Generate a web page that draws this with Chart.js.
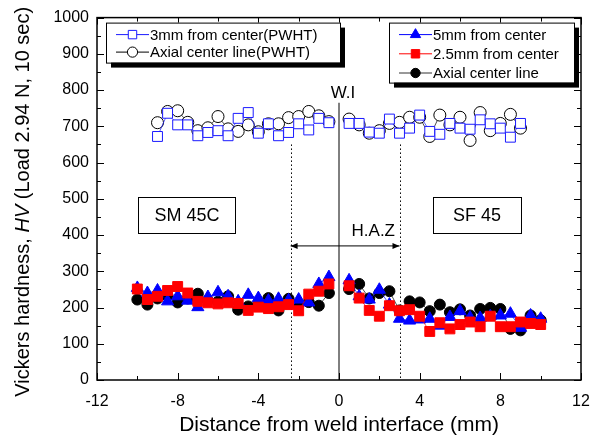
<!DOCTYPE html>
<html>
<head>
<meta charset="utf-8">
<script src="https://cdn.jsdelivr.net/npm/chart.js@4/dist/chart.umd.min.js"></script>
<style>
  body { margin: 0; background: #fff; }
  #wrap { width: 602px; height: 440px; }
</style>
</head>
<body>
<div id="wrap"><canvas id="hvChart" width="602" height="440"></canvas></div>
<script>
// positions (mm) of the PWHT measurements
const xPwht = [-9, -8.5, -8, -7.5, -7, -6.5, -6, -5.5, -5, -4.5, -4, -3.5, -3, -2.5, -2, -1.5, -1, -0.5,
  0.5, 1, 1.5, 2, 2.5, 3, 3.5, 4, 4.5, 5, 5.5, 6, 6.5, 7, 7.5, 8, 8.5, 9];
const pwht3mm = [672, 736, 704, 704, 674, 683, 688, 674, 722, 738, 681, 707, 674, 683, 707, 690, 722, 710,
  708, 708, 684, 681, 720, 681, 695, 731, 686, 678, 708, 695, 692, 718, 707, 695, 670, 708];
const pwhtAxial = [710, 741, 743, 711, 688, 696, 727, 693, 686, 704, 685, 707, 707, 724, 727, 741, 729, 713,
  720, 704, 681, 688, 708, 711, 725, 725, 672, 731, 704, 725, 661, 738, 688, 708, 733, 695];

// positions (mm) of the as-welded measurements
const xWeld = [-10, -9.5, -9, -8.5, -8, -7.5, -7, -6.5, -6, -5.5, -5, -4.5, -4, -3.5, -3, -2.5, -2, -1.5, -1, -0.5,
  0.5, 1, 1.5, 2, 2.5, 3, 3.5, 4, 4.5, 5, 5.5, 6, 6.5, 7, 7.5, 8, 8.5, 9, 9.5, 10];
const weld5mm = [254, 240, 247, 217, 231, 219, 201, 229, 242, 231, 217, 235, 226, 219, 224, 220, 222, 214, 265, 284,
  275, 231, 222, 249, 208, 169, 164, 167, 169, 150, 174, 190, 172, 171, 176, 178, 183, 144, 178, 169];
const weld25mm = [251, 222, 231, 247, 258, 240, 217, 213, 210, 213, 211, 192, 201, 197, 202, 208, 191, 237, 245, 265,
  260, 226, 192, 176, 205, 191, 194, 176, 134, 158, 141, 153, 160, 147, 176, 147, 147, 160, 156, 153];
const weldAxial = [222, 208, 225, 232, 214, 225, 238, 220, 216, 231, 194, 203, 210, 226, 192, 224, 210, 215, 205, 240,
  251, 265, 225, 240, 245, 192, 217, 214, 190, 208, 187, 195, 178, 196, 199, 196, 141, 137, 178, 165];

const xTicks = [-12, -8, -4, 0, 4, 8, 12];
const yTicks = [0, 100, 200, 300, 400, 500, 600, 700, 800, 900, 1000];

const FONT = '"Liberation Sans", Arial, sans-serif';

const pts = (xs, ys) => xs.map((x, i) => ({ x: x, y: ys[i] }));
// no line across the weld interface
const noCross = { borderColor: c => (c.p0.parsed.x < 0 && c.p1.parsed.x > 0) ? 'rgba(0,0,0,0)' : undefined };

const series = [
  { label: '3mm from center(PWHT)', data: pts(xPwht, pwht3mm), pointStyle: 'rect', pointRadius: 7,
    borderColor: '#1a1aff', backgroundColor: '#fff', order: 1 },
  { label: 'Axial center line(PWHT)', data: pts(xPwht, pwhtAxial), pointStyle: 'circle', pointRadius: 6,
    borderColor: '#000', backgroundColor: '#fff', order: 2 },
  { label: '5mm from center', data: pts(xWeld, weld5mm), pointStyle: 'triangle', pointRadius: 7,
    borderColor: '#0000ff', backgroundColor: '#0000ff', order: 4 },
  { label: '2.5mm from center', data: pts(xWeld, weld25mm), pointStyle: 'rect', pointRadius: 7,
    borderColor: '#ff0000', backgroundColor: '#ff0000', order: 3 },
  { label: 'Axial center line', data: pts(xWeld, weldAxial), pointStyle: 'circle', pointRadius: 5.5,
    borderColor: '#000', backgroundColor: '#000', order: 5 }
];

function drawMarker(ctx, style, cx, cy, r, fill, stroke) {
  ctx.beginPath();
  if (style === 'rect') {
    const s = r * Math.SQRT1_2;
    ctx.rect(cx - s, cy - s, 2 * s, 2 * s);
  } else if (style === 'triangle') {
    ctx.moveTo(cx, cy - r);
    ctx.lineTo(cx + r * 0.866, cy + r * 0.5);
    ctx.lineTo(cx - r * 0.866, cy + r * 0.5);
    ctx.closePath();
  } else {
    ctx.arc(cx, cy, r, 0, Math.PI * 2);
  }
  ctx.fillStyle = fill;
  ctx.fill();
  ctx.strokeStyle = stroke;
  ctx.lineWidth = 1;
  ctx.stroke();
}

function legendBox(ctx, left, top, w, h, items) {
  ctx.fillStyle = '#000';
  ctx.fillRect(left + 5, top + 5, w, h);
  ctx.fillStyle = '#fff';
  ctx.fillRect(left, top, w, h);
  ctx.strokeStyle = '#000';
  ctx.lineWidth = 1;
  ctx.strokeRect(left + 0.5, top + 0.5, w, h);
  items.forEach((it, i) => {
    const yy = top + 12 + i * it.gap;
    ctx.strokeStyle = it.line;
    ctx.lineWidth = 1;
    ctx.beginPath();
    ctx.moveTo(left + 10, yy);
    ctx.lineTo(left + 43, yy);
    ctx.stroke();
    drawMarker(ctx, it.ds.pointStyle, left + 26.5, yy, it.ds.pointRadius * 0.85, it.ds.backgroundColor, it.ds.borderColor);
    ctx.fillStyle = '#000';
    ctx.font = '15px ' + FONT;
    ctx.textAlign = 'left';
    ctx.textBaseline = 'middle';
    ctx.fillText(it.ds.label, left + 44, yy + 1);
  });
}

const decorPlugin = {
  id: 'decor',
  beforeDatasetsDraw(chart) {
    const { ctx, scales: { x, y } } = chart;
    ctx.save();
    ctx.strokeStyle = '#000';
    // weld interface
    ctx.lineWidth = 1;
    ctx.beginPath();
    ctx.moveTo(x.getPixelForValue(0), y.getPixelForValue(765));
    ctx.lineTo(x.getPixelForValue(0), y.getPixelForValue(0));
    ctx.stroke();
    // HAZ bounds
    ctx.setLineDash([1.5, 2.5]);
    [-2.4, 3.0].forEach(v => {
      const px = Math.round(x.getPixelForValue(v)) + 0.5;
      ctx.beginPath();
      ctx.moveTo(px, y.getPixelForValue(650));
      ctx.lineTo(px, y.getPixelForValue(0));
      ctx.stroke();
    });
    ctx.setLineDash([]);
    ctx.restore();
  },
  afterDraw(chart) {
    const { ctx, chartArea: a, scales: { x, y } } = chart;
    ctx.save();
    // frame
    ctx.strokeStyle = '#000';
    ctx.lineWidth = 1.5;
    ctx.strokeRect(a.left, a.top, a.right - a.left, a.bottom - a.top);
    // inward ticks on all four sides
    ctx.lineWidth = 1;
    for (let v = -12; v <= 12; v += 2) {
      const px = Math.round(x.getPixelForValue(v)) + 0.5;
      const len = v % 4 === 0 ? 7 : 4;
      ctx.beginPath();
      ctx.moveTo(px, a.bottom); ctx.lineTo(px, a.bottom - len);
      ctx.moveTo(px, a.top); ctx.lineTo(px, a.top + len);
      ctx.stroke();
    }
    for (let v = 0; v <= 1000; v += 50) {
      const py = Math.round(y.getPixelForValue(v)) + 0.5;
      const len = v % 100 === 0 ? 7 : 4;
      ctx.beginPath();
      ctx.moveTo(a.left, py); ctx.lineTo(a.left + len, py);
      ctx.moveTo(a.right, py); ctx.lineTo(a.right - len, py);
      ctx.stroke();
    }

    ctx.fillStyle = '#000';
    ctx.textBaseline = 'middle';
    ctx.textAlign = 'center';
    // W.I
    ctx.font = '17px ' + FONT;
    ctx.fillText('W.I', x.getPixelForValue(0.2), y.getPixelForValue(790));
    // H.A.Z arrow
    const ay = y.getPixelForValue(370);
    const ax0 = x.getPixelForValue(-2.4), ax1 = x.getPixelForValue(3.0);
    ctx.lineWidth = 1;
    ctx.beginPath();
    ctx.moveTo(ax0, ay); ctx.lineTo(ax1, ay);
    ctx.stroke();
    ctx.beginPath();
    ctx.moveTo(ax0, ay); ctx.lineTo(ax0 + 7, ay - 3); ctx.lineTo(ax0 + 7, ay + 3); ctx.closePath();
    ctx.moveTo(ax1, ay); ctx.lineTo(ax1 - 7, ay - 3); ctx.lineTo(ax1 - 7, ay + 3); ctx.closePath();
    ctx.fill();
    ctx.fillText('H.A.Z', x.getPixelForValue(1.7), y.getPixelForValue(409));
    // material boxes
    ctx.font = '18px ' + FONT;
    [['SM 45C', -9.95, -5.13], ['SF 45', 4.65, 9.03]].forEach(([t, x0, x1]) => {
      const l = x.getPixelForValue(x0), r = x.getPixelForValue(x1);
      const tp = y.getPixelForValue(505), bt = y.getPixelForValue(406);
      ctx.fillStyle = '#fff';
      ctx.fillRect(l, tp, r - l, bt - tp);
      ctx.strokeRect(Math.round(l) + 0.5, Math.round(tp) + 0.5, Math.round(r - l), Math.round(bt - tp));
      ctx.fillStyle = '#000';
      ctx.fillText(t, (l + r) / 2, (tp + bt) / 2 + 1);
    });

    // legends
    const ds = chart.data.datasets;
    legendBox(ctx, a.left + 9, a.top + 5, 234, 40, [
      { ds: ds[0], line: '#1a1aff', gap: 17.5 },
      { ds: ds[1], line: '#000', gap: 17.5 }
    ]);
    legendBox(ctx, a.left + 292, a.top + 5, 185, 60, [
      { ds: ds[2], line: '#0000ff', gap: 19.2 },
      { ds: ds[3], line: '#ff0000', gap: 19.2 },
      { ds: ds[4], line: '#333', gap: 19.2 }
    ]);

    // axis titles
    ctx.fillStyle = '#000';
    ctx.font = '21px ' + FONT;
    ctx.textAlign = 'center';
    ctx.fillText('Distance from weld interface (mm)', (a.left + a.right) / 2, 425);

    const parts = [['Vickers hardness, ', 'normal'], ['HV', 'italic'], [' (Load 2.94 N, 10 sec)', 'normal']];
    ctx.translate(23, (a.top + a.bottom) / 2 + 3);
    ctx.rotate(-Math.PI / 2);
    let total = 0;
    parts.forEach(p => { ctx.font = p[1] + ' 20px ' + FONT; total += ctx.measureText(p[0]).width; });
    let cx = -total / 2;
    ctx.textAlign = 'left';
    parts.forEach(p => {
      ctx.font = p[1] + ' 20px ' + FONT;
      ctx.fillText(p[0], cx, 0);
      cx += ctx.measureText(p[0]).width;
    });
    ctx.restore();
  }
};

new Chart(document.getElementById('hvChart'), {
  type: 'scatter',
  data: {
    datasets: series.map(s => Object.assign({
      showLine: true,
      borderWidth: 0.7,
      pointBorderWidth: 1,
      pointHoverRadius: s.pointRadius,
      segment: noCross
    }, s))
  },
  options: {
    responsive: false,
    animation: false,
    layout: { padding: { top: 17, right: 21, left: 0, bottom: 0 } },
    plugins: {
      legend: { display: false },
      tooltip: { enabled: false }
    },
    scales: {
      x: {
        type: 'linear',
        min: -12, max: 12,
        afterFit: s => { s.height = 60; },
        afterBuildTicks: s => { s.ticks = xTicks.map(v => ({ value: v })); },
        grid: { display: false, drawTicks: false },
        border: { display: false },
        ticks: { color: '#000', padding: 12, font: { family: FONT, size: 16 }, callback: v => String(v) }
      },
      y: {
        type: 'linear',
        min: 0, max: 1000,
        afterFit: s => { s.width = 97; },
        afterBuildTicks: s => { s.ticks = yTicks.map(v => ({ value: v })); },
        grid: { display: false, drawTicks: false },
        border: { display: false },
        ticks: { color: '#000', padding: 8, font: { family: FONT, size: 16 }, callback: v => String(v) }
      }
    }
  },
  plugins: [decorPlugin]
});
</script>
</body>
</html>
